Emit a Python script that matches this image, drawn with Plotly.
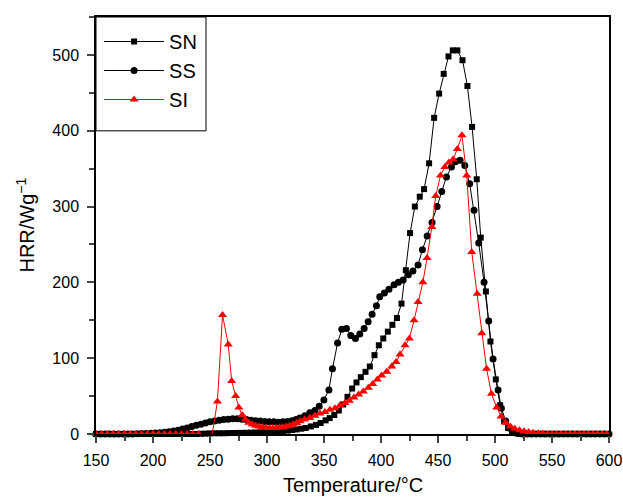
import plotly.graph_objects as go

# ---------------- data ----------------
SN_T = [150, 154, 158, 162, 166, 170, 174, 178, 182, 186, 190, 194, 198, 202, 206, 210,
        214, 218, 222, 226, 230, 234, 238, 242, 246, 250, 254, 258, 262, 266, 270, 274,
        278, 282, 286, 290, 294, 298, 302, 306, 310, 314, 318, 322, 326, 330, 334, 338.5,
        343, 347, 351.4, 355, 359, 363, 366.8, 370.6, 374.7, 378.5, 382.3, 386.4, 390.2,
        394.3, 398.1, 402, 406, 410, 414, 418, 421.8, 425.5, 429.7, 434, 437.8, 442.2,
        446.6, 451, 455, 459.2, 463, 467, 471.5, 475.8, 479.9, 484, 487.5, 492, 496, 500.7,
        504.5, 508, 511.5, 515, 519, 523, 527, 531, 535, 539, 543, 547, 551, 555, 559, 563,
        567, 571, 575, 579, 583, 587, 591, 595, 599]
SN_V = [0, 0, 0, 0, 0, 0, 0, 0, 0, 0, 0, 0, 0, 0, 0, 0,
        0, 0, 0, 0, 0, 0, 0, 0.3, 0.5, 0.8, 1, 1, 1, 1.2, 1.3, 1.4,
        1.5, 1.6, 1.8, 2, 2.2, 2.5, 2.8, 3.1, 3.5, 4, 4.5, 5.2, 6, 7, 8, 10,
        12, 14.5, 18, 21, 25, 31, 39, 49, 60, 68, 75, 82, 89,
        104, 117, 126, 135, 144, 153, 172, 216, 265, 300, 313, 323, 357,
        417, 449, 475, 498, 506, 506, 493, 459, 405, 336, 259, 188, 122, 72,
        38, 17, 8, 3, 1, 0.3, 0, 0, 0, 0, 0, 0, 0, 0, 0, 0,
        0, 0, 0, 0, 0, 0, 0, 0, 0]

SS_T = [150, 154, 158, 162, 166, 170, 174, 178, 182, 186, 190, 194, 198, 202, 206, 210,
        214, 218, 222, 226, 230, 234, 238, 242, 246, 250, 254, 258, 262, 266, 270, 274,
        278, 282, 286, 290, 294, 298, 302, 306, 310, 314, 318, 322, 325.5, 328.8, 333.2,
        337.6, 342, 345.8, 349.9, 354.3, 357.4, 361.9, 365.6, 369.7, 373.5, 377.6, 381.4,
        385.2, 388.7, 392.2, 396, 398.9, 403, 407, 411.5, 415.3, 419.4, 424, 428, 432.5,
        436.3, 440.5, 444.8, 449.2, 453.3, 457.4, 461.8, 465.3, 469.4, 473.5, 477.8, 481.6,
        485.7, 490.4, 494.5, 498.3, 502.7, 505.6, 509.4, 512.3, 516, 520, 524, 528, 532,
        536, 540, 544, 548, 552, 556, 560, 564, 568, 572, 576, 580, 584, 588, 592, 596, 600]
SS_V = [0, 0, 0, 0, 0, 0, 0, 0, 0, 0.3, 0.5, 0.7, 1, 1.3, 1.8, 2.3,
        3, 3.8, 5, 6.5, 8, 10, 11.5, 13, 14.5, 16, 17, 18, 19, 19.5, 20, 20,
        19.5, 19, 18, 17.5, 17, 16.5, 16, 16, 15.5, 16, 16.5, 17.5, 19, 21, 24,
        28, 31, 36.5, 45, 58, 86, 120, 138, 139, 130, 126, 132,
        139, 148, 158, 169, 181, 186, 191, 197, 200, 203, 210, 215, 223,
        243, 261, 279, 300, 320, 339, 352, 359, 361, 354, 330, 295,
        252, 200, 149, 99, 58, 34, 17, 8, 2, 0.5, 0, 0, 0,
        0, 0, 0, 0, 0, 0, 0, 0, 0, 0, 0, 0, 0, 0, 0, 0, 0]

SI_T = [150, 155, 160, 165, 170, 175, 180, 185, 190, 195, 200, 205, 210, 215, 220, 225,
        230, 235, 240, 246, 256.5, 261, 266, 269, 272.5, 275.3, 278.3, 281, 284, 287,
        290, 293, 296, 299, 302, 305, 308, 311, 314, 317, 320, 323, 326, 329, 333, 337.6,
        342, 346.4, 350.8, 355.2, 359.6, 364, 368.4, 372.2, 376.3, 380.4, 384.5, 388.9,
        392.7, 396.8, 400.6, 405, 409.4, 413.2, 416.7, 421.1, 424.9, 429, 432.5, 436.7,
        440.4, 444.6, 448, 452.2, 456, 459.5, 463.2, 467, 471, 475.2, 479.6, 484.4, 488.4,
        492.6, 496.9, 501.5, 505.3, 509.3, 513.5, 517.4, 521.5, 525.5, 529.5, 533.5, 538,
        542, 546, 550, 554, 558, 562, 566, 570, 574, 578, 582, 586, 590, 594, 598]
SI_V = [0, 0, 0, 0, 0, 0, 0, 0, 0, 0, 0, 0, 0, 0, 0, 0,
        0, 0, 0, None, 43, 157, 118, 70, 50, 35, 25, 19, 15, 12.5,
        11, 10, 9, 8.5, 8, 8, 8, 8.5, 9, 10, 11, 12.5, 14.5, 16.7, 19, 21,
        24, 27, 29, 32, 34, 38, 41, 44, 48, 52, 56, 61,
        66, 72, 77, 82, 89, 95, 105, 117, 126, 150, 174, 200,
        232, 273, 314, 341, 352, 358, 362, 376, 394, 341, 240, 185, 133,
        86, 53, 35, 23, 15, 10, 7, 5, 3.5, 2.5, 1.5, 1,
        0.6, 0, 0, 0, 0, 0, 0, 0, 0, 0, 0, 0, 0, 0, 0]
# the SI line resumes from the baseline (no marker) after its gap
SI_JOIN_T = [252, 256.5]
SI_JOIN_V = [0, 43]

X_TICKS = [150, 200, 250, 300, 350, 400, 450, 500, 550, 600]
Y_TICKS = [0, 100, 200, 300, 400, 500]

fig = go.Figure()
fig.add_trace(go.Scatter(x=SN_T, y=SN_V, name="SN", mode="lines+markers",
                         line=dict(color="black", width=1),
                         marker=dict(symbol="square", size=6, color="black"),
                         cliponaxis=False))
fig.add_trace(go.Scatter(x=SS_T, y=SS_V, name="SS", mode="lines+markers",
                         line=dict(color="black", width=1),
                         marker=dict(symbol="circle", size=7, color="black"),
                         cliponaxis=False))
fig.add_trace(go.Scatter(x=SI_JOIN_T, y=SI_JOIN_V, mode="lines", showlegend=False,
                         line=dict(color="red", width=1), hoverinfo="skip"))
fig.add_trace(go.Scatter(x=SI_T, y=SI_V, name="SI", mode="lines+markers",
                         line=dict(color="red", width=1),
                         marker=dict(symbol="triangle-up", size=8, color="red"),
                         connectgaps=False, cliponaxis=False))

font_family = "Liberation Sans, Arial, sans-serif"
fig.update_layout(
    width=623, height=497,
    margin=dict(l=96, r=14, t=17, b=63, autoexpand=False),
    paper_bgcolor="white", plot_bgcolor="white",
    font=dict(family=font_family, color="black", size=16),
    showlegend=True,
    legend=dict(x=0.006, y=0.988, xanchor="left", yanchor="top",
                borderwidth=0, bgcolor="rgba(0,0,0,0)",
                font=dict(size=20), itemwidth=60, tracegroupgap=0),
    shapes=[dict(type="rect", xref="paper", yref="paper",
                 x0=0, x1=0.2144, y0=0.727, y1=1,
                 line=dict(color="black", width=1), fillcolor="white", layer="below")],
    annotations=[
        dict(text="Temperature/°C", xref="paper", yref="paper", x=0.5, y=-0.1214,
             xanchor="center", yanchor="middle", showarrow=False, font=dict(size=20)),
        dict(text="HRR/Wg<sup>−1</sup>", xref="paper", yref="paper", x=-0.1383, y=0.5,
             xanchor="center", yanchor="middle", showarrow=False, textangle=-90,
             font=dict(size=20)),
    ],
    xaxis=dict(range=[150, 600], tickvals=X_TICKS, ticks="outside", ticklen=7,
               tickwidth=1.5, showline=True, linecolor="black", linewidth=1.5,
               mirror=True, showgrid=False, zeroline=False, ticklabelstandoff=4,
               automargin=False,
               minor=dict(dtick=25, ticks="outside", ticklen=5, tickwidth=1.5,
                          showgrid=False)),
    yaxis=dict(range=[0, 550], tickvals=Y_TICKS, ticks="outside", ticklen=7,
               tickwidth=1.5, showline=True, linecolor="black", linewidth=1.5,
               mirror=True, showgrid=False, zeroline=False,
               ticklabelstandoff=5, automargin=False,
               minor=dict(dtick=50, ticks="outside", ticklen=5, tickwidth=1.5,
                          showgrid=False)),
)

fig.write_html("out.html")
